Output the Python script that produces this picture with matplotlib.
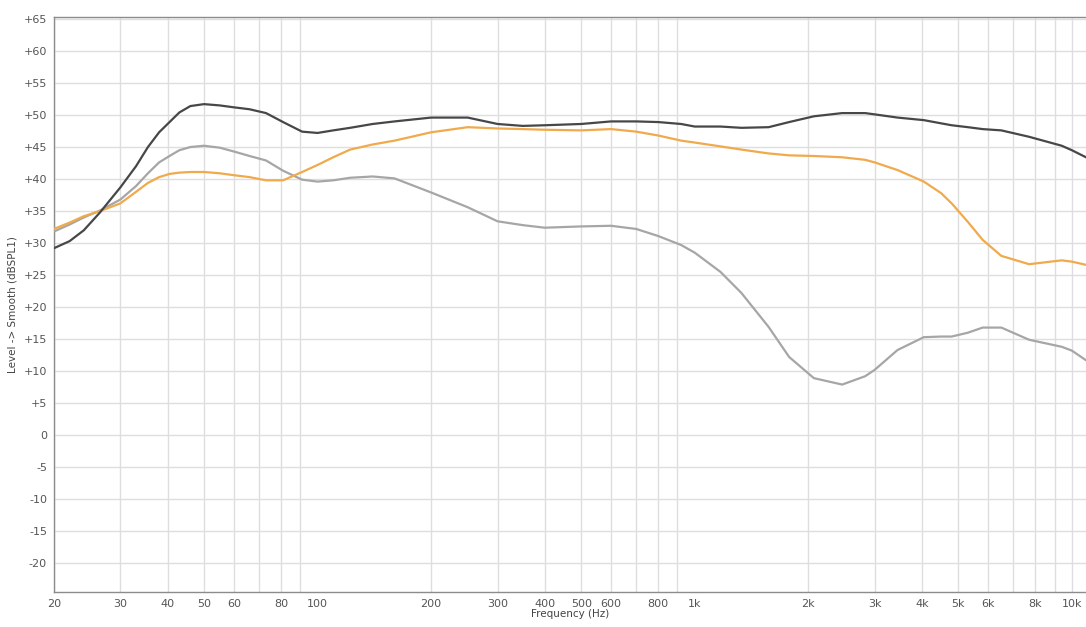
import matplotlib
matplotlib.use('Agg')
import matplotlib.pyplot as plt
from matplotlib.ticker import FixedLocator, FuncFormatter, NullLocator

# Frequencies (Hz) and smoothed levels (dBSPL)
freq = [20, 22, 24, 26.5, 30, 33, 35.5, 38, 40.5, 43, 46, 50, 55, 60, 66, 73,
        81, 91, 100, 110, 122, 140, 160, 200, 250, 300, 350, 400, 500, 600,
        700, 800, 920, 1000, 1170, 1330, 1570, 1780, 2070, 2460, 2830, 3000,
        3450, 4050, 4500, 4800, 5300, 5800, 6500, 7700, 9400, 10000, 10900]

dark = [29.2, 30.3, 32.0, 34.8, 38.7, 42.0, 45.0, 47.3, 48.9, 50.4, 51.4, 51.7,
        51.5, 51.2, 50.9, 50.3, 48.9, 47.4, 47.2, 47.6, 48.0, 48.6, 49.0, 49.6,
        49.6, 48.6, 48.3, 48.4, 48.6, 49.0, 49.0, 48.9, 48.6, 48.2, 48.2, 48.0,
        48.1, 48.9, 49.8, 50.3, 50.3, 50.1, 49.6, 49.2, 48.7, 48.4, 48.1, 47.8,
        47.6, 46.6, 45.2, 44.5, 43.4]

orange = [32.2, 33.2, 34.2, 35.0, 36.2, 38.0, 39.4, 40.3, 40.8, 41.0, 41.1, 41.1,
          40.9, 40.6, 40.3, 39.8, 39.8, 41.1, 42.2, 43.4, 44.6, 45.4, 46.0, 47.3,
          48.1, 47.9, 47.8, 47.7, 47.6, 47.8, 47.4, 46.8, 46.0, 45.7, 45.1, 44.6,
          44.0, 43.7, 43.6, 43.4, 43.0, 42.6, 41.4, 39.6, 37.8, 36.2, 33.3, 30.5,
          28.0, 26.7, 27.3, 27.1, 26.6]

gray = [31.8, 32.9, 34.0, 35.1, 36.8, 38.9, 40.9, 42.6, 43.6, 44.5, 45.0, 45.2,
        44.9, 44.3, 43.6, 42.9, 41.3, 39.9, 39.6, 39.8, 40.2, 40.4, 40.1, 37.9,
        35.6, 33.4, 32.8, 32.4, 32.6, 32.7, 32.2, 31.1, 29.7, 28.5, 25.5, 22.2,
        16.9, 12.2, 8.9, 7.9, 9.2, 10.2, 13.3, 15.3, 15.4, 15.4, 16.0, 16.8,
        16.8, 14.9, 13.8, 13.2, 11.7]

xticks = [20, 30, 40, 50, 60, 80, 100, 200, 300, 400, 500, 600, 800,
          1000, 2000, 3000, 4000, 5000, 6000, 8000, 10000]
xlabels = ['20', '30', '40', '50', '60', '80', '100', '200', '300', '400', '500',
           '600', '800', '1k', '2k', '3k', '4k', '5k', '6k', '8k', '10k']
xgrid = [m * 10 ** e for e in range(1, 4) for m in range(2, 10)] + [10000]
yticks = list(range(-20, 70, 5))


def fmt_db(v, pos):
    v = int(round(v))
    return f'+{v}' if v > 0 else str(v)


fig = plt.figure(figsize=(10.86, 6.27), dpi=100)
ax = fig.add_axes([0.0497, 0.0558, 0.9503, 0.917])

ax.set_xscale('log')
ax.set_xlim(20, 10900)
ax.set_ylim(-24.5, 65.3)

for x in xgrid:
    ax.axvline(x, color='#dedede', linewidth=1.0, zorder=0)
for y in yticks:
    ax.axhline(y, color='#dedede', linewidth=1.0, zorder=0)

ax.plot(freq, gray, color='#a6a6a6', linewidth=1.6, zorder=3)
ax.plot(freq, orange, color='#f0aa4c', linewidth=1.6, zorder=4)
ax.plot(freq, dark, color='#474747', linewidth=1.6, zorder=5)

ax.xaxis.set_major_locator(FixedLocator(xticks))
ax.xaxis.set_minor_locator(NullLocator())
ax.set_xticklabels(xlabels)
ax.yaxis.set_major_locator(FixedLocator(yticks))
ax.yaxis.set_major_formatter(FuncFormatter(fmt_db))

ax.tick_params(axis='both', length=0, labelsize=8, colors='#555555', pad=5)
for side in ['left', 'bottom', 'top']:
    ax.spines[side].set_color('#8c8c8c')
    ax.spines[side].set_linewidth(1.0)
ax.spines['right'].set_visible(False)

ax.set_xlabel('Frequency (Hz)', fontsize=7.5, color='#444444', labelpad=0)
ax.set_ylabel('Level -> Smooth (dBSPL1)', fontsize=7.5, color='#444444', labelpad=4)

fig.savefig('out.png', dpi=100, facecolor='white')
